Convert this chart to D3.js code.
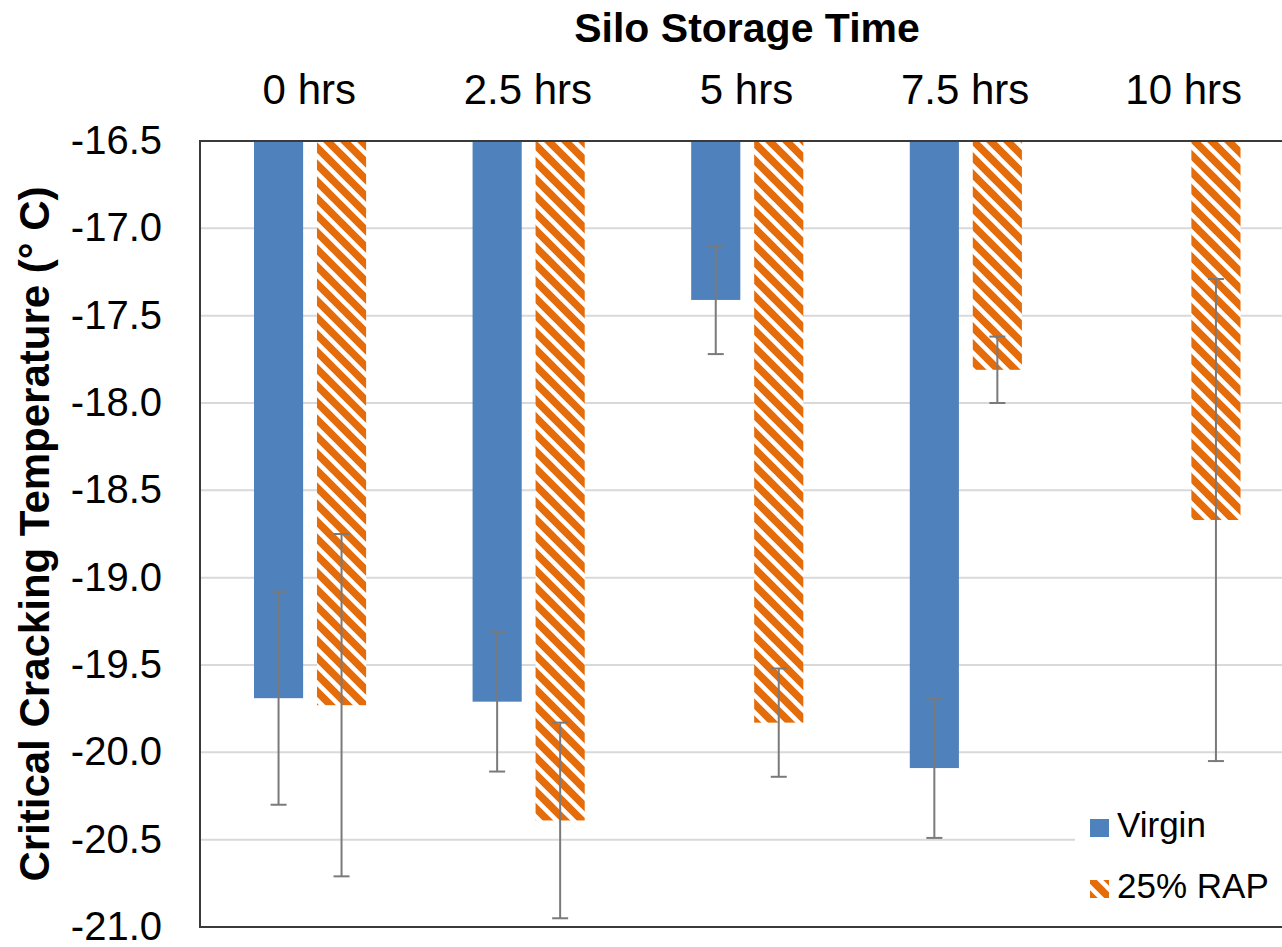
<!DOCTYPE html>
<html>
<head>
<meta charset="utf-8">
<script src="https://cdn.jsdelivr.net/npm/d3@7"></script>
<style>
    body { margin: 0; background: #fff; }
    text { font-family: "Liberation Sans", Arial, sans-serif; }
</style>
</head>
<body>
<div id="svgcontainer"></div>
<script>
// data
const categories = ['0 hrs', '2.5 hrs', '5 hrs', '7.5 hrs', '10 hrs']
const series_names = ['Virgin', '25% RAP']
const virgin_values = [-19.69, -19.71, -17.41, -20.09, null]
const virgin_errors = [0.61, 0.40, 0.31, 0.40, null]
const rap_values = [-19.73, -20.39, -19.83, -17.81, -18.67]
const rap_errors = [0.98, 0.56, 0.31, 0.19, 1.38]
const y_ticks = [-16.5, -17.0, -17.5, -18.0, -18.5, -19.0, -19.5, -20.0, -20.5, -21.0]

const blue = '#4f81bd'
const orange = '#e46c0a'

const svg_width = 1282,
    svg_height = 947
// the plot area runs a little past the right edge of the picture
const margin = { top: 141, bottom: 20, left: 200, right: -11 }
const graph_width = svg_width - margin.left - margin.right,
    graph_height = 927 - margin.top

let svg = d3.select('#svgcontainer')
    .append('svg')
    .attr('width', svg_width)
    .attr('height', svg_height)

// striped pattern for the RAP bars
let defs = svg.append('defs')
let pat = defs.append('pattern')
    .attr('id', 'stripes')
    .attr('patternUnits', 'userSpaceOnUse')
    .attr('width', 17)
    .attr('height', 17)
pat.append('rect').attr('width', 17).attr('height', 17).attr('fill', orange)
for (let k = -1; k <= 1; k++) {
    pat.append('line')
        .attr('x1', -17).attr('y1', -17 + 17 * k)
        .attr('x2', 34).attr('y2', 34 + 17 * k)
        .attr('stroke', '#fff')
        .attr('stroke-width', 4.5)
}

let g = svg.append('g')
    .attr('transform', 'translate(' + margin.left + ',' + margin.top + ')')

// scales
let x0 = d3.scaleBand().domain(categories).range([0, graph_width])
let x1 = d3.scaleBand().domain(series_names).range([0, x0.bandwidth()])
    .paddingInner(0.22).paddingOuter(0.845).align(0.507)
let yScale = d3.scaleLinear().domain([-16.5, -21.0]).range([0, graph_height])

// gridlines
g.selectAll('.grid')
    .data(y_ticks.slice(1, -1))
    .enter().append('line')
    .attr('x1', 0).attr('x2', graph_width)
    .attr('y1', d => yScale(d)).attr('y2', d => yScale(d))
    .attr('stroke', '#d9d9d9')
    .attr('stroke-width', 2)

// y axis labels
let y_axis = d3.axisLeft(yScale)
    .tickValues(y_ticks)
    .tickSize(0)
    .tickPadding(38)
    .tickFormat(d3.format('.1f'))
let ya = g.append('g').call(y_axis)
ya.select('.domain').remove()
ya.selectAll('text')
    .attr('font-size', 40)
    .attr('fill', '#000')
    .attr('font-family', '"Liberation Sans", Arial, sans-serif')
    .attr('dy', '0.31em')
    .text(d => d3.format('.1f')(d).replace('−', '-'))

// bars
let series = [
    { name: 'Virgin', values: virgin_values, errors: virgin_errors, fill: blue },
    { name: '25% RAP', values: rap_values, errors: rap_errors, fill: 'url(#stripes)' }
]

series.forEach(function (s) {
    for (let i = 0; i < categories.length; i++) {
        if (s.values[i] == null) continue
        let x = x0(categories[i]) + x1(s.name)
        g.append('rect')
            .attr('x', x)
            .attr('y', yScale(-16.5))
            .attr('width', x1.bandwidth())
            .attr('height', yScale(s.values[i]) - yScale(-16.5))
            .attr('fill', s.fill)
    }
})

// error bars
series.forEach(function (s) {
    for (let i = 0; i < categories.length; i++) {
        if (s.values[i] == null) continue
        let cx = x0(categories[i]) + x1(s.name) + x1.bandwidth() / 2
        let hi = yScale(s.values[i] + s.errors[i]),
            lo = yScale(s.values[i] - s.errors[i])
        g.append('line')
            .attr('x1', cx).attr('x2', cx)
            .attr('y1', hi).attr('y2', lo)
            .attr('stroke', '#7a7a7a').attr('stroke-width', 2)
        ;[hi, lo].forEach(function (yy) {
            g.append('line')
                .attr('x1', cx - 8).attr('x2', cx + 8)
                .attr('y1', yy).attr('y2', yy)
                .attr('stroke', '#7a7a7a').attr('stroke-width', 2)
        })
    }
})

// legend
let legend = g.append('g')
    .attr('transform', 'translate(' + (1090 - margin.left) + ',' + (819 - margin.top) + ')')
legend.append('rect')
    .attr('x', -15).attr('y', -27)
    .attr('width', 220).attr('height', 133)
    .attr('fill', '#fff')
series.forEach(function (s, i) {
    legend.append('rect')
        .attr('x', 0).attr('y', i * 61)
        .attr('width', 19).attr('height', 18)
        .attr('fill', s.fill)
    legend.append('text')
        .attr('x', 27).attr('y', i * 61 + 18)
        .attr('font-size', 35)
        .text(s.name)
})

// plot frame
g.append('rect')
    .attr('x', 0).attr('y', 0)
    .attr('width', graph_width).attr('height', graph_height)
    .attr('fill', 'none')
    .attr('stroke', '#3a3a3a')
    .attr('stroke-width', 2)

// category labels on top
g.selectAll('.cat')
    .data(categories)
    .enter().append('text')
    .attr('x', d => x0(d) + x0.bandwidth() / 2)
    .attr('y', 104 - margin.top)
    .attr('text-anchor', 'middle')
    .attr('font-size', 42)
    .text(d => d)

// titles
svg.append('text')
    .attr('x', 747)
    .attr('y', 42)
    .attr('text-anchor', 'middle')
    .attr('font-size', 41)
    .attr('font-weight', 'bold')
    .text('Silo Storage Time')

svg.append('text')
    .attr('transform', 'translate(49,' + (margin.top + graph_height / 2) + ') rotate(-90)')
    .attr('text-anchor', 'middle')
    .attr('font-size', 42)
    .attr('font-weight', 'bold')
    .text('Critical Cracking Temperature (° C)')
</script>
</body>
</html>
